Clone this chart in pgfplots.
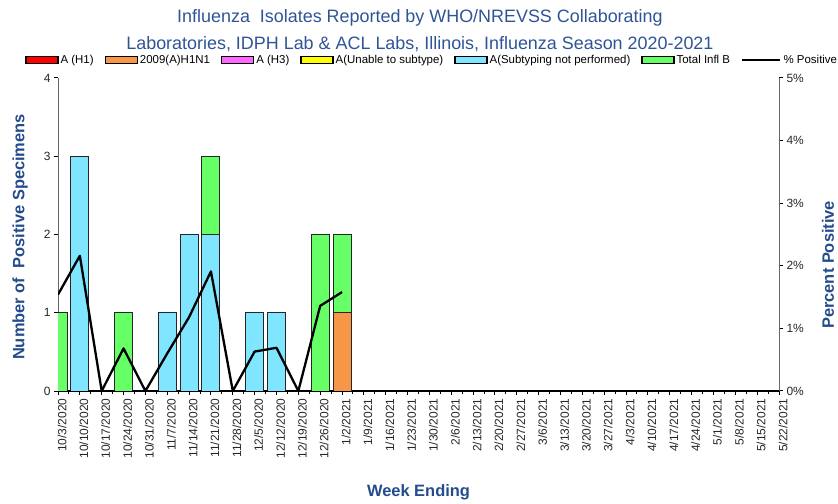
\documentclass[border=0pt]{standalone}
\usepackage{pgfplots}
\pgfplotsset{compat=1.18}
\usepackage{fontspec}
\setmainfont{Liberation Sans}
\definecolor{ttl}{RGB}{47,84,150}
\definecolor{lbl}{RGB}{36,75,140}
\definecolor{cH1}{RGB}{255,0,0}
\definecolor{cPdm}{RGB}{247,150,70}
\definecolor{cH3}{RGB}{255,102,255}
\definecolor{cUn}{RGB}{255,255,0}
\definecolor{cNP}{RGB}{128,230,255}
\definecolor{cB}{RGB}{102,255,102}
\pgfplotsset{barleg/.style={legend image code/.code={\draw[##1,draw=black,line width=1.3bp] (0bp,-3.5bp) rectangle (32bp,3.5bp);}},
  lineleg/.style={legend image code/.code={\draw[##1] (0bp,0bp) -- (38bp,0bp);}}}
\begin{document}
\begin{tikzpicture}
\path[use as bounding box] (0,0) rectangle (838bp,504bp);
\begin{axis}[
  at={(58bp,113bp)}, anchor=south west,
  scale only axis, width=721bp, height=313bp,
  xmin=0, xmax=33, ymin=0, ymax=4,
  ybar stacked, bar width=18bp,
  axis y line*=left, axis x line*=bottom,
  x axis line style={black, line width=1.5bp},
  y axis line style={black!60, line width=1bp},
  xtick={0,...,33}, minor x tick num=1,
  ytick={0,...,4},
  tick align=outside,
  major tick length=4bp, minor tick length=3bp,
  tick style={black, line width=1bp},
  /pgf/number format/assume math mode=true,
  tick label style={font=\fontsize{12}{14}\selectfont, color=black!85},
  xticklabel style={rotate=90, anchor=east, yshift=-4bp},
  xticklabels={10/3/2020,10/10/2020,10/17/2020,10/24/2020,10/31/2020,11/7/2020,11/14/2020,11/21/2020,11/28/2020,12/5/2020,12/12/2020,12/19/2020,12/26/2020,1/2/2021,1/9/2021,1/16/2021,1/23/2021,1/30/2021,2/6/2021,2/13/2021,2/20/2021,2/27/2021,3/6/2021,3/13/2021,3/20/2021,3/27/2021,4/3/2021,4/10/2021,4/17/2021,4/24/2021,5/1/2021,5/8/2021,5/15/2021,5/22/2021},
  xlabel={Week Ending},
  xlabel style={font=\bfseries\fontsize{16.5}{18}\selectfont, color=lbl, at={(axis description cs:0.5,-0.322)}, anchor=center},
  ylabel={Number of\ \ Positive Specimens},
  ylabel style={font=\bfseries\fontsize{16.5}{18}\selectfont, color=lbl, at={(axis description cs:-0.0527,0.492)}, anchor=center},
  title={Influenza\ \ Isolates Reported by WHO/NREVSS Collaborating\\Laboratories, IDPH Lab \& ACL Labs, Illinois, Influenza Season 2020-2021},
  title style={align=center, font=\fontsize{18}{27}\selectfont, color=ttl, at={(axis description cs:0.502,1.131)}, anchor=center},
  legend columns=-1,
  legend style={draw=none, fill=none, font=\fontsize{11.5}{12}\selectfont, at={(0.519,1.057)}, anchor=center, /tikz/every even column/.append style={column sep=9bp}},
]
% A (H1)
\addplot[fill=cH1, draw=black!85, line width=1bp, barleg] coordinates {(0,0) (1,0) (2,0) (3,0) (4,0) (5,0) (6,0) (7,0) (8,0) (9,0) (10,0) (11,0) (12,0) (13,0)};
\addlegendentry{A (H1)}
% 2009 H1N1
\addplot[fill=cPdm, draw=black!85, line width=1bp, barleg] coordinates {(0,0) (1,0) (2,0) (3,0) (4,0) (5,0) (6,0) (7,0) (8,0) (9,0) (10,0) (11,0) (12,0) (13,1)};
\addlegendentry{2009(A)H1N1}
% A (H3)
\addplot[fill=cH3, draw=black!85, line width=1bp, barleg] coordinates {(0,0) (1,0) (2,0) (3,0) (4,0) (5,0) (6,0) (7,0) (8,0) (9,0) (10,0) (11,0) (12,0) (13,0)};
\addlegendentry{A (H3)}
% Unable to subtype
\addplot[fill=cUn, draw=black!85, line width=1bp, barleg] coordinates {(0,0) (1,0) (2,0) (3,0) (4,0) (5,0) (6,0) (7,0) (8,0) (9,0) (10,0) (11,0) (12,0) (13,0)};
\addlegendentry{A(Unable to subtype)}
% Subtyping not performed
\addplot[fill=cNP, draw=black!85, line width=1bp, barleg] coordinates {(0,0) (1,3) (2,0) (3,0) (4,0) (5,1) (6,2) (7,2) (8,0) (9,1) (10,1) (11,0) (12,0) (13,0)};
\addlegendentry{A(Subtyping not performed)}
% Total B
\addplot[fill=cB, draw=black!85, line width=1bp, barleg] coordinates {(0,1) (1,0) (2,0) (3,1) (4,0) (5,0) (6,0) (7,1) (8,0) (9,0) (10,0) (11,0) (12,2) (13,1)};
\addlegendentry{Total Infl B}
\addlegendimage{black, line width=2.5bp, lineleg}
\addlegendentry{\% Positive}
\end{axis}
\begin{axis}[
  at={(58bp,113bp)}, anchor=south west,
  scale only axis, width=721bp, height=313bp,
  xmin=0, xmax=33, ymin=0, ymax=5,
  axis y line*=right, axis x line=none,
  y axis line style={black!60, line width=1bp},
  ytick={0,...,5},
  tick align=outside, major tick length=4bp,
  tick style={black, line width=1bp},
  /pgf/number format/assume math mode=true,
  yticklabel={\pgfmathprintnumber{\tick}\%},
  tick label style={font=\fontsize{12}{14}\selectfont, color=black!85},
  ylabel={Percent Positive},
  ylabel style={font=\bfseries\fontsize{16.5}{18}\selectfont, color=lbl, at={(axis description cs:1.068,0.403)}, anchor=center},
]
\addplot[black, line width=2.3bp, line join=round] coordinates {(0,1.54) (1,2.16) (2,0) (3,0.68) (4,0) (5,0.60) (6,1.18) (7,1.91) (8,0) (9,0.63) (10,0.69) (11,0) (12,1.36) (13,1.58)};
\end{axis}
\end{tikzpicture}
\end{document}
